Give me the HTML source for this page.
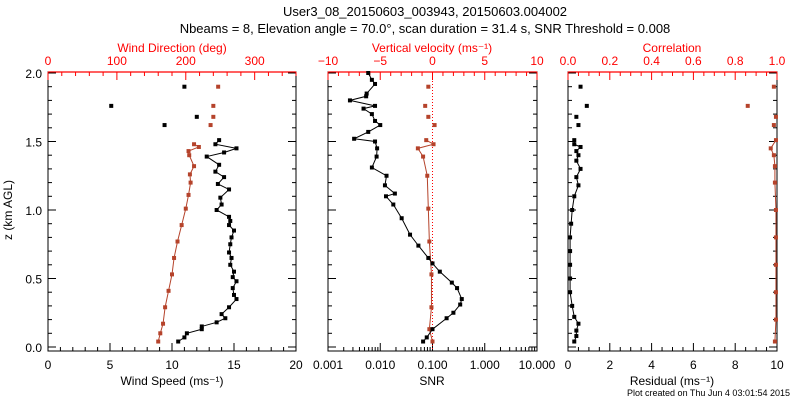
<!DOCTYPE html>
<html><head><meta charset="utf-8"><style>
body{margin:0;background:#fff;}
svg{display:block;font-family:"Liberation Sans","DejaVu Sans",sans-serif;}
</style></head><body>
<svg id="c" width="800" height="400">
<text x="425" y="16" font-size="13" text-anchor="middle">User3_08_20150603_003943, 20150603.004002</text>
<text x="425" y="33" font-size="13" text-anchor="middle">Nbeams = 8, Elevation angle = 70.0°, scan duration = 31.4 s, SNR Threshold = 0.008</text>
<text x="12" y="210" font-size="12" text-anchor="middle" transform="rotate(-90 12 210)">z (km AGL)</text>
<text x="790" y="396" font-size="9" text-anchor="end">Plot created on Thu Jun  4 03:01:54 2015</text>
</svg>
<script>
// Panel 1: wind speed (black) and direction (red)
const wsZ=[0.04,0.07,0.10,0.13,0.15,0.18,0.21,0.24,0.29,0.35,0.38,0.43,0.48,0.51,0.55,0.60,0.65,0.69,0.75,0.80,0.85,0.89,0.92,0.95,1.00,1.04,1.09,1.15,1.19,1.24,1.28,1.33,1.39,1.42,1.45,1.48,1.51,1.62,1.68,1.76,1.90];
const wsVal=[10.5,11.0,11.2,12.4,12.4,13.6,14.3,14.0,14.6,15.2,15.0,14.9,15.2,14.9,15.0,14.7,14.8,14.6,14.7,14.8,15.0,14.6,14.7,14.6,13.6,14.0,13.9,14.6,13.7,14.2,13.5,13.8,12.8,14.2,15.2,13.5,13.8,9.4,12.0,5.1,11.0];
const wdZ=[0.04,0.10,0.17,0.29,0.41,0.53,0.65,0.77,0.89,1.01,1.11,1.20,1.26,1.32,1.40,1.43,1.46,1.48,1.62,1.68,1.76,1.90];
const wdVal=[160,163,167,170,175,180,183,188,194,200,204,207,206,212,205,204,219,212,236,240,240,247];
// Panel 2: SNR (black, log10) and vertical velocity (red)
const snrZ=[0.04,0.07,0.13,0.21,0.25,0.31,0.35,0.43,0.47,0.55,0.61,0.65,0.74,0.82,0.94,1.04,1.10,1.12,1.18,1.25,1.31,1.39,1.45,1.50,1.52,1.57,1.62,1.65,1.70,1.74,1.76,1.80,1.83,1.85,1.92,1.95,2.00];
const snrLog=[-1.18,-1.11,-1.0,-0.73,-0.60,-0.47,-0.44,-0.53,-0.63,-0.86,-1.0,-1.08,-1.27,-1.43,-1.59,-1.75,-1.89,-1.72,-1.91,-1.88,-2.16,-2.07,-2.06,-2.10,-2.50,-2.23,-2.0,-2.10,-2.16,-2.32,-2.10,-2.58,-2.27,-2.26,-2.10,-2.16,-2.23];
const wZ=[0.04,0.13,0.29,0.53,0.77,1.01,1.25,1.39,1.45,1.48,1.51,1.62,1.68,1.76,1.90];
const wVal=[0.0,-0.3,-0.1,-0.1,-0.3,-0.4,-0.5,-0.9,-1.4,0.1,-0.6,0.2,-0.4,-0.7,-0.4];
// Panel 3: residual (black) and correlation (red)
const resZ=[0.04,0.08,0.12,0.17,0.22,0.30,0.40,0.50,0.60,0.70,0.80,0.90,1.00,1.10,1.18,1.24,1.30,1.36,1.40,1.43,1.46,1.48,1.51,1.62,1.68,1.76,1.90];
const resVal=[0.3,0.4,0.4,0.5,0.3,0.2,0.1,0.1,0.1,0.1,0.1,0.15,0.2,0.3,0.5,0.4,0.6,0.4,0.5,0.4,0.6,0.3,0.3,0.5,0.4,0.9,0.6];
const corZ=[0.04,0.20,0.40,0.60,0.80,1.00,1.20,1.32,1.40,1.45,1.51,1.62,1.68,1.76,1.90];
const corVal=[0.99,0.995,0.995,0.995,0.995,0.995,0.99,0.99,0.985,0.97,0.995,0.985,0.995,0.86,0.985];
const yTicks=["0.0","0.5","1.0","1.5","2.0"];

const NS="http://www.w3.org/2000/svg";
const svg=document.getElementById('c');
const RED="#ff0000", BR="#b5432b";
function el(t,a,p){const e=document.createElementNS(NS,t);for(const k in a)e.setAttribute(k,a[k]);(p||svg).appendChild(e);return e;}
const Y0=347,YS=137,TOP=72,BOT=351;
const yOf=z=>Y0-z*YS;

function panel(name,x0,x1){
  const g=el('g',{});
  
  
  el('rect',{x:x0,y:TOP,width:x1-x0,height:BOT-TOP,fill:'none',stroke:'#000','stroke-width':1},g);
  el('line',{x1:x0,y1:TOP,x2:x1,y2:TOP,stroke:RED,'stroke-width':1.2},g);
  for(let z=0;z<=2.001;z+=0.1){
    const y=yOf(z),maj=Math.abs(z*2-Math.round(z*2))<0.01,L=maj?8:4;
    el('line',{x1:x0,y1:y,x2:x0+L,y2:y,stroke:'#000'},g);
    el('line',{x1:x1,y1:y,x2:x1-L,y2:y,stroke:'#000'},g);
  }
  return g;
}
function ticksBottom(g,xs,L){xs.forEach(x=>el('line',{x1:x,y1:BOT,x2:x,y2:BOT-L,stroke:'#000'},g));}
function ticksTop(g,xs,L){xs.forEach(x=>el('line',{x1:x,y1:TOP,x2:x,y2:TOP+L,stroke:RED},g));}
function label(g,x,y,t,col,name,anchor){const e=el('text',{x:x,y:y,'font-size':12,fill:col,'text-anchor':anchor||'middle'},g);e.textContent=t;return e;}
function marks(g,xs,zs,col,line,nLine,name){
  const pts=xs.map((x,i)=>[x,yOf(zs[i])]);
  if(line){const pl=el('polyline',{points:pts.slice(0,nLine).map(p=>p.join(',')).join(' '),fill:'none',stroke:col,'stroke-width':1},g);}
  pts.forEach(p=>{const r=el('rect',{x:p[0]-2,y:p[1]-2,width:4,height:4,fill:col},g);});
}

// Panel 1
const p1x0=48,p1x1=296;
const xWS=v=>p1x0+v/20*(p1x1-p1x0), xWD=v=>p1x0+v/360*(p1x1-p1x0);
const g1=panel('wind-panel',p1x0,p1x1);
const b1=[],b1m=[];for(let v=0;v<=20;v++)(v%5?b1m:b1).push(xWS(v));
ticksBottom(g1,b1,8);ticksBottom(g1,b1m,4);
const t1=[],t1m=[];for(let v=0;v<=360;v+=20)(v%100?t1m:t1).push(xWD(v));
ticksTop(g1,t1,8);ticksTop(g1,t1m,4);
[0,5,10,15,20].forEach(v=>label(g1,xWS(v),369,String(v),'#000','x-tick-label'));
[0,100,200,300].forEach(v=>label(g1,xWD(v),65,String(v),RED,'top-tick-label'));
label(g1,172,385,'Wind Speed (ms⁻¹)','#000','x-axis-title');
label(g1,172,52,'Wind Direction (deg)',RED,'top-axis-title');
yTicks.forEach((t,i)=>label(g1,42,yOf(i*0.5)+5,t,'#000','y-tick-label','end'));
marks(g1,wdVal.map(xWD),wdZ,BR,true,18,'wind-direction');
marks(g1,wsVal.map(xWS),wsZ,'#000',true,37,'wind-speed');

// Panel 2
const p2x0=328,p2x1=537;
const xSN=l=>p2x0+(l+3)/4*(p2x1-p2x0), xW=v=>p2x0+(v+10)/20*(p2x1-p2x0);
const g2=panel('snr-velocity-panel',p2x0,p2x1);
const b2=[],b2m=[];for(let d=-3;d<=1;d++){b2.push(xSN(d));if(d<1)for(let k=2;k<10;k++)b2m.push(xSN(d+Math.log10(k)));}
ticksBottom(g2,b2,8);ticksBottom(g2,b2m,4);
const t2=[],t2m=[];for(let v=-10;v<=10;v++)(v%5?t2m:t2).push(xW(v));
ticksTop(g2,t2,8);ticksTop(g2,t2m,4);
['0.001','0.010','0.100','1.000','10.000'].forEach((t,i)=>label(g2,xSN(i-3),369,t,'#000','x-tick-label'));
[-10,-5,0,5,10].forEach(v=>label(g2,xW(v),65,v<0?'−'+(-v):String(v),RED,'top-tick-label'));
label(g2,432,385,'SNR','#000','x-axis-title');
label(g2,432,52,'Vertical velocity (ms⁻¹)',RED,'top-axis-title');
el('line',{x1:xW(0),y1:TOP,x2:xW(0),y2:BOT,stroke:RED,'stroke-dasharray':'1,2'},g2);
marks(g2,wVal.map(xW),wZ,BR,true,11,'vertical-velocity');
marks(g2,snrLog.map(xSN),snrZ,'#000',true,37,'snr');

// Panel 3
const p3x0=568,p3x1=777;
const xR=v=>p3x0+v/10*(p3x1-p3x0), xC=v=>p3x0+v*(p3x1-p3x0);
const g3=panel('residual-correlation-panel',p3x0,p3x1);
const b3=[],b3m=[];for(let v=0;v<=20;v++)(v%4?b3m:b3).push(xR(v/2));
ticksBottom(g3,b3,8);ticksBottom(g3,b3m,4);
const t3=[],t3m=[];for(let v=0;v<=20;v++)(v%4?t3m:t3).push(xC(v/20));
ticksTop(g3,t3,8);ticksTop(g3,t3m,4);
[0,2,4,6,8,10].forEach(v=>label(g3,xR(v),369,String(v),'#000','x-tick-label'));
['0.0','0.2','0.4','0.6','0.8','1.0'].forEach((t,i)=>label(g3,xC(i*0.2),65,t,RED,'top-tick-label'));
label(g3,672,385,'Residual (ms⁻¹)','#000','x-axis-title');
label(g3,672,52,'Correlation',RED,'top-axis-title');
marks(g3,corVal.map(xC),corZ,BR,true,11,'correlation');
marks(g3,resVal.map(xR),resZ,'#000',true,23,'residual');
</script>
</body></html>
